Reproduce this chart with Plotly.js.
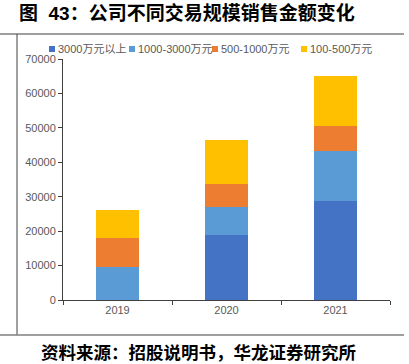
<!DOCTYPE html>
<html><head><meta charset="utf-8">
<script src="https://cdn.plot.ly/plotly-3.0.1.min.js"></script>
<style>html,body{margin:0;padding:0;background:#fff}#chart{width:409px;height:364px}</style>
</head><body><div id="chart"></div>
<script>
const years = ['2019', '2020', '2021'];
const seriesNames = ['3000万元以上', '1000-3000万元', '500-1000万元', '100-500万元'];
const over3000 = [0, 19000, 28800];
const from1000to3000 = [9600, 7900, 14500];
const from500to1000 = [8500, 6800, 7300];
const from100to500 = [8100, 12800, 14500];
const colors = ['#4472C4', '#5B9BD5', '#ED7D31', '#FFC000'];
const yTicks = [0, 10000, 20000, 30000, 40000, 50000, 60000, 70000];

const values = [over3000, from1000to3000, from500to1000, from100to500];
const traces = values.map((v, i) => ({
  type: 'bar', x: years, y: v, name: seriesNames[i],
  marker: {color: colors[i], line: {width: 0}},
  width: 0.4, hoverinfo: 'skip', showlegend: false
}));

const W = 409, H = 364, L = 63, R = 19, T = 59, B = 64;
const pw = W - L - R, ph = H - T - B;
const px = x => (x - L) / pw;
const py = y => (H - B - y) / ph;
const lineStyle = {color: '#7f7f7f', width: 1.3};

// legend entries (drawn as paper shapes + text)
const legendX = [49, 129, 212, 301];
const legendY = 49;
const legendShapes = seriesNames.map((n, i) => ({
  type: 'rect', xref: 'paper', yref: 'paper',
  x0: px(legendX[i]), x1: px(legendX[i] + 6), y0: py(legendY - 3), y1: py(legendY + 3),
  fillcolor: colors[i], line: {width: 0}
}));
const legendText = seriesNames.map((n, i) => ({
  text: n, xref: 'paper', yref: 'paper', x: px(legendX[i] + 7), xanchor: 'left',
  y: py(legendY), yanchor: 'middle', showarrow: false,
  font: {family: '"Liberation Sans", "Noto Sans CJK SC", sans-serif', size: 11, color: '#595959'}
}));

const layout = {
  width: W, height: H,
  margin: {l: L, r: R, t: T, b: B, pad: 0},
  paper_bgcolor: '#fff', plot_bgcolor: '#fff',
  barmode: 'stack',
  font: {family: '"Liberation Sans", Arial, "Noto Sans CJK SC", sans-serif', size: 11, color: '#595959'},
  title: {
    text: '<b>图&nbsp;&nbsp;43：公司不同交易规模销售金额变化</b>',
    xref: 'container', yref: 'container', x: 19 / W, xanchor: 'left', y: 1 - 13 / H, yanchor: 'middle',
    font: {family: '"Liberation Sans", "Noto Sans CJK SC", sans-serif', size: 19, color: '#000'}
  },
  showlegend: false,
  xaxis: {
    type: 'category', showgrid: false, showline: true, linecolor: '#404040', linewidth: 1,
    ticks: 'outside', ticklen: 4, tickcolor: '#404040', tickson: 'boundaries',
    tickfont: {size: 11, color: '#595959'}, fixedrange: true
  },
  yaxis: {
    range: [0, 70000], tickvals: yTicks, ticktext: yTicks.map(String),
    showgrid: false, zeroline: false, showline: true, linecolor: '#404040', linewidth: 1,
    ticks: 'outside', ticklen: 4, tickcolor: '#404040',
    tickfont: {size: 11, color: '#595959'}, fixedrange: true
  },
  shapes: [
    {type: 'line', xref: 'paper', yref: 'paper', x0: px(0), x1: px(404), y0: py(34), y1: py(34), line: lineStyle},
    {type: 'line', xref: 'paper', yref: 'paper', x0: px(17), x1: px(17), y0: py(34), y1: py(335), line: {color: '#404040', width: 1}},
    {type: 'line', xref: 'paper', yref: 'paper', x0: px(0), x1: px(404), y0: py(335), y1: py(335), line: lineStyle}
  ].concat(legendShapes),
  annotations: [{
    text: '<b>资料来源：招股说明书，华龙证券研究所</b>',
    xref: 'paper', yref: 'paper', x: px(39), xanchor: 'left', y: py(351), yanchor: 'middle', showarrow: false,
    font: {family: '"Noto Sans CJK SC", sans-serif', size: 17.5, color: '#000'}
  }].concat(legendText)
};

Plotly.newPlot('chart', traces, layout, {displayModeBar: false, staticPlot: true});
</script></body></html>
